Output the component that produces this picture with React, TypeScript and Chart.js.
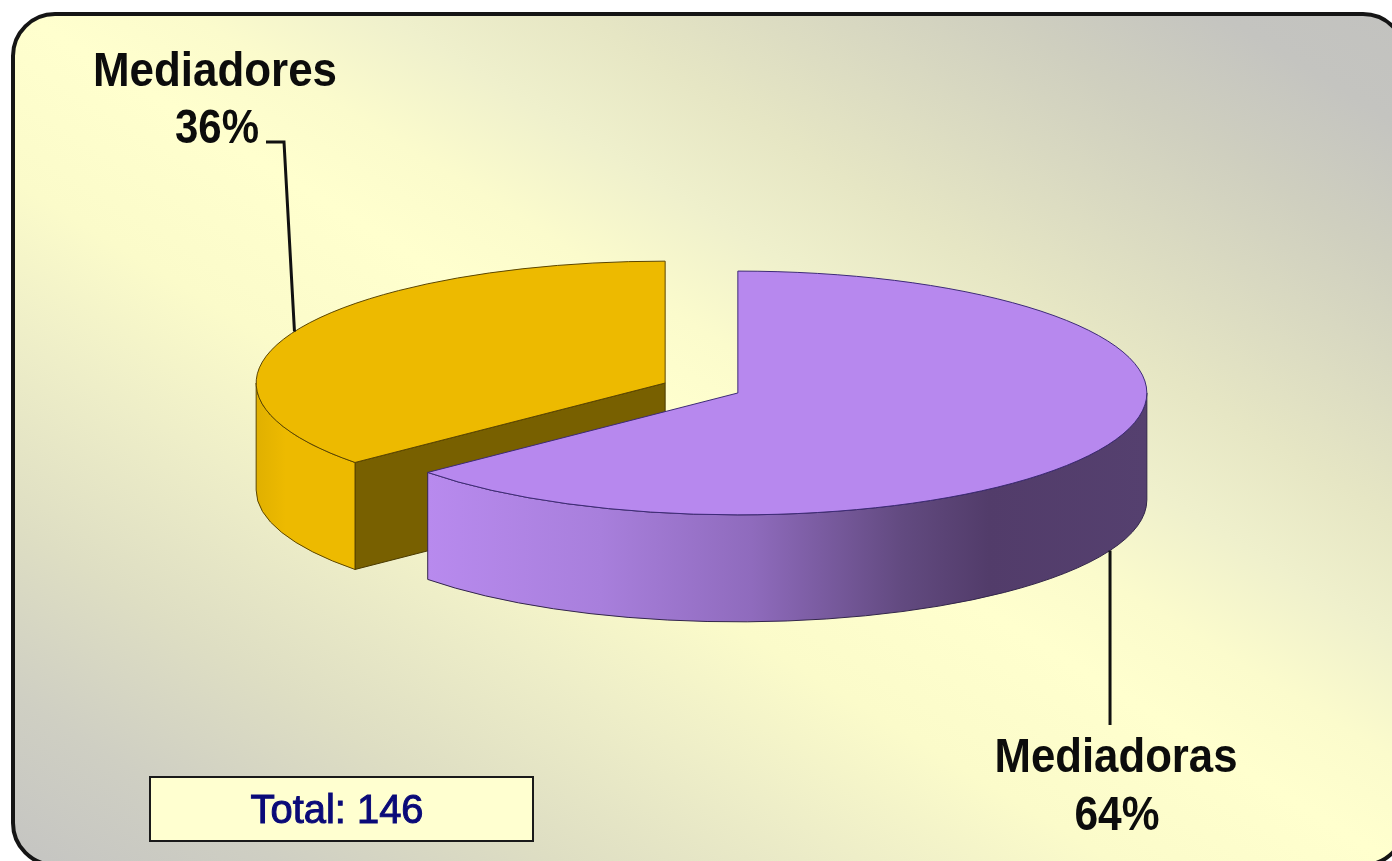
import React, { useEffect, useRef } from "react";
import { Chart, registerables } from "chart.js";

Chart.register(...registerables);

const categories = ["Mediadoras", "Mediadores"];
const counts = [93, 53];
const sliceColors = ["#b788ee", "#edba00"];
const edgeColors = ["#3d2a78", "#5c4600"];
const totalLabel = "Total:";

const W = 1392;
const H = 861;
const RADIUS = 409;
const EXPLODE = 40;
const SQUASH = 0.298;
const DEPTH = 107;
const CX = 701.5;
const CY = 388;
const FONT = '"Liberation Sans", Arial, sans-serif';

function geom(arc: any) {
  const cx = arc.x;
  const cy = CY + (arc.y - CY) * SQUASH;
  const ry = RADIUS * SQUASH;
  const at = (a: number) => ({ x: cx + RADIUS * Math.cos(a), y: cy + ry * Math.sin(a) });
  return { cx, cy, ry, at, start: arc.startAngle, end: arc.endAngle };
}

function rimPath(ctx: CanvasRenderingContext2D, g: any, a0: number, a1: number) {
  ctx.beginPath();
  ctx.ellipse(g.cx, g.cy, RADIUS, g.ry, 0, a0, a1, false);
  ctx.ellipse(g.cx, g.cy + DEPTH, RADIUS, g.ry, 0, a1, a0, true);
  ctx.closePath();
}

const pie3d = {
  id: "pie3d",
  afterDatasetUpdate(chart: any) {
    // explode each slice along its mid angle
    for (const arc of chart.getDatasetMeta(0).data) {
      const mid = (arc.startAngle + arc.endAngle) / 2;
      arc.x += Math.cos(mid) * EXPLODE;
      arc.y += Math.sin(mid) * EXPLODE;
    }
  },
  beforeDraw(chart: any) {
    const { ctx } = chart;
    ctx.save();
    ctx.fillStyle = "#ffffff";
    ctx.fillRect(0, 0, W, H);
    // gradient axis perpendicular to the top-left / bottom-right diagonal
    const n = W * W + H * H;
    const hx = (H * H * W) / n;
    const hy = (W * W * H) / n;
    const grad = ctx.createLinearGradient(W / 2 - hx, H / 2 + hy, W / 2 + hx, H / 2 - hy);
    grad.addColorStop(0, "#c4c4c2");
    grad.addColorStop(0.1, "#cfcfc3");
    grad.addColorStop(0.2, "#dedec3");
    grad.addColorStop(0.31, "#eeeec8");
    grad.addColorStop(0.4, "#fbfbca");
    grad.addColorStop(0.5, "#ffffce");
    grad.addColorStop(0.56, "#fbfbcc");
    grad.addColorStop(0.63, "#eff0cc");
    grad.addColorStop(0.7, "#e6e6c4");
    grad.addColorStop(0.85, "#cfcfbf");
    grad.addColorStop(0.93, "#c4c4c0");
    grad.addColorStop(1, "#c2c2bf");
    ctx.beginPath();
    ctx.roundRect(13, 14, 1392, 851, 42);
    ctx.fillStyle = grad;
    ctx.fill();
    ctx.lineWidth = 4;
    ctx.strokeStyle = "#151515";
    ctx.stroke();
    ctx.restore();
  },
  beforeDatasetsDraw(chart: any) {
    const { ctx } = chart;
    const [purple, yellow] = chart.getDatasetMeta(0).data;
    const gy = geom(yellow);
    const gp = geom(purple);

    ctx.save();
    ctx.lineWidth = 1;

    // yellow cut face
    const e = gy.at(gy.start);
    ctx.beginPath();
    ctx.moveTo(gy.cx, gy.cy);
    ctx.lineTo(e.x, e.y);
    ctx.lineTo(e.x, e.y + DEPTH);
    ctx.lineTo(gy.cx, gy.cy + DEPTH);
    ctx.closePath();
    ctx.fillStyle = "#786000";
    ctx.fill();
    ctx.strokeStyle = "#4a3a00";
    ctx.stroke();

    // yellow rim
    rimPath(ctx, gy, gy.start, Math.PI);
    const gg = ctx.createLinearGradient(gy.cx - RADIUS, 0, e.x, 0);
    gg.addColorStop(0, "#e0b000");
    gg.addColorStop(0.3, "#edba00");
    gg.addColorStop(1, "#edba00");
    ctx.fillStyle = gg;
    ctx.fill();
    ctx.strokeStyle = "#5c4600";
    ctx.stroke();

    // purple rim
    const left = gp.at(gp.end).x;
    const right = gp.cx + RADIUS;
    rimPath(ctx, gp, 0, gp.end);
    const pg = ctx.createLinearGradient(left, 0, right, 0);
    pg.addColorStop(0, "#b88aee");
    pg.addColorStop(0.24, "#a87fdc");
    pg.addColorStop(0.45, "#8f6bbd");
    pg.addColorStop(0.66, "#624a80");
    pg.addColorStop(0.78, "#523c6a");
    pg.addColorStop(1, "#55406f");
    ctx.fillStyle = pg;
    ctx.fill();
    ctx.strokeStyle = "#33264a";
    ctx.stroke();
    ctx.restore();

    // flatten the pie's top faces
    ctx.save();
    ctx.translate(0, CY);
    ctx.scale(1, SQUASH);
    ctx.translate(0, -CY);
  },
  afterDatasetsDraw(chart: any) {
    const { ctx } = chart;
    ctx.restore();

    const [purple, yellow] = chart.getDatasetMeta(0).data;
    const total = counts.reduce((a, b) => a + b, 0);

    ctx.save();
    [purple, yellow].forEach((arc: any, i: number) => {
      const g = geom(arc);
      ctx.beginPath();
      ctx.moveTo(g.cx, g.cy);
      ctx.ellipse(g.cx, g.cy, RADIUS, g.ry, 0, g.start, g.end, false);
      ctx.closePath();
      ctx.lineWidth = 1;
      ctx.strokeStyle = edgeColors[i];
      ctx.stroke();
    });

    // leader lines
    const gy = geom(yellow);
    const gp = geom(purple);
    const yAttach = gy.at((205 * Math.PI) / 180);
    const pAttach = gp.at((24.5 * Math.PI) / 180);
    ctx.strokeStyle = "#111111";
    ctx.lineWidth = 3;
    ctx.beginPath();
    ctx.moveTo(266, 142);
    ctx.lineTo(284, 142);
    ctx.lineTo(yAttach.x, yAttach.y);
    ctx.stroke();
    ctx.beginPath();
    ctx.moveTo(pAttach.x, pAttach.y + DEPTH);
    ctx.lineTo(pAttach.x, 725);
    ctx.stroke();

    // data labels
    ctx.fillStyle = "#0c0c0c";
    ctx.textAlign = "center";
    ctx.textBaseline = "alphabetic";
    ctx.font = `bold 48px ${FONT}`;
    const pct = (v: number) => `${Math.round((v / total) * 100)}%`;
    ctx.fillText(categories[1], 215, 86, 244);
    ctx.fillText(pct(counts[1]), 217, 143, 84);
    ctx.fillText(categories[0], 1116, 772, 243);
    ctx.fillText(pct(counts[0]), 1117, 830, 85);

    // total box
    ctx.fillStyle = "#ffffd0";
    ctx.fillRect(150, 777, 383, 64);
    ctx.strokeStyle = "#1a1a1a";
    ctx.lineWidth = 2;
    ctx.strokeRect(150, 777, 383, 64);
    ctx.fillStyle = "#0a0a78";
    ctx.strokeStyle = "#0a0a78";
    ctx.lineWidth = 1;
    ctx.font = `40px ${FONT}`;
    const t = `${totalLabel} ${total}`;
    ctx.fillText(t, 337, 823, 173);
    ctx.strokeText(t, 337, 823, 173);
    ctx.restore();
  },
};

export default function App() {
  const ref = useRef<HTMLCanvasElement>(null);
  useEffect(() => {
    const chart = new Chart(ref.current as HTMLCanvasElement, {
      type: "pie",
      data: {
        labels: categories,
        datasets: [
          {
            data: counts,
            backgroundColor: sliceColors,
            borderWidth: 0,
            clip: false,
          } as any,
        ],
      },
      options: {
        animation: false,
        responsive: false,
        radius: RADIUS,
        layout: { padding: { left: 2 * CX - W, right: 0, top: 0, bottom: H - 2 * CY } },
        plugins: { legend: { display: false }, tooltip: { enabled: false } },
      } as any,
      plugins: [pie3d],
    });
    return () => chart.destroy();
  }, []);
  return (
    <canvas
      ref={ref}
      width={W}
      height={H}
      style={{ position: "fixed", left: 0, top: 0, width: W, height: H, display: "block" }}
    />
  );
}
